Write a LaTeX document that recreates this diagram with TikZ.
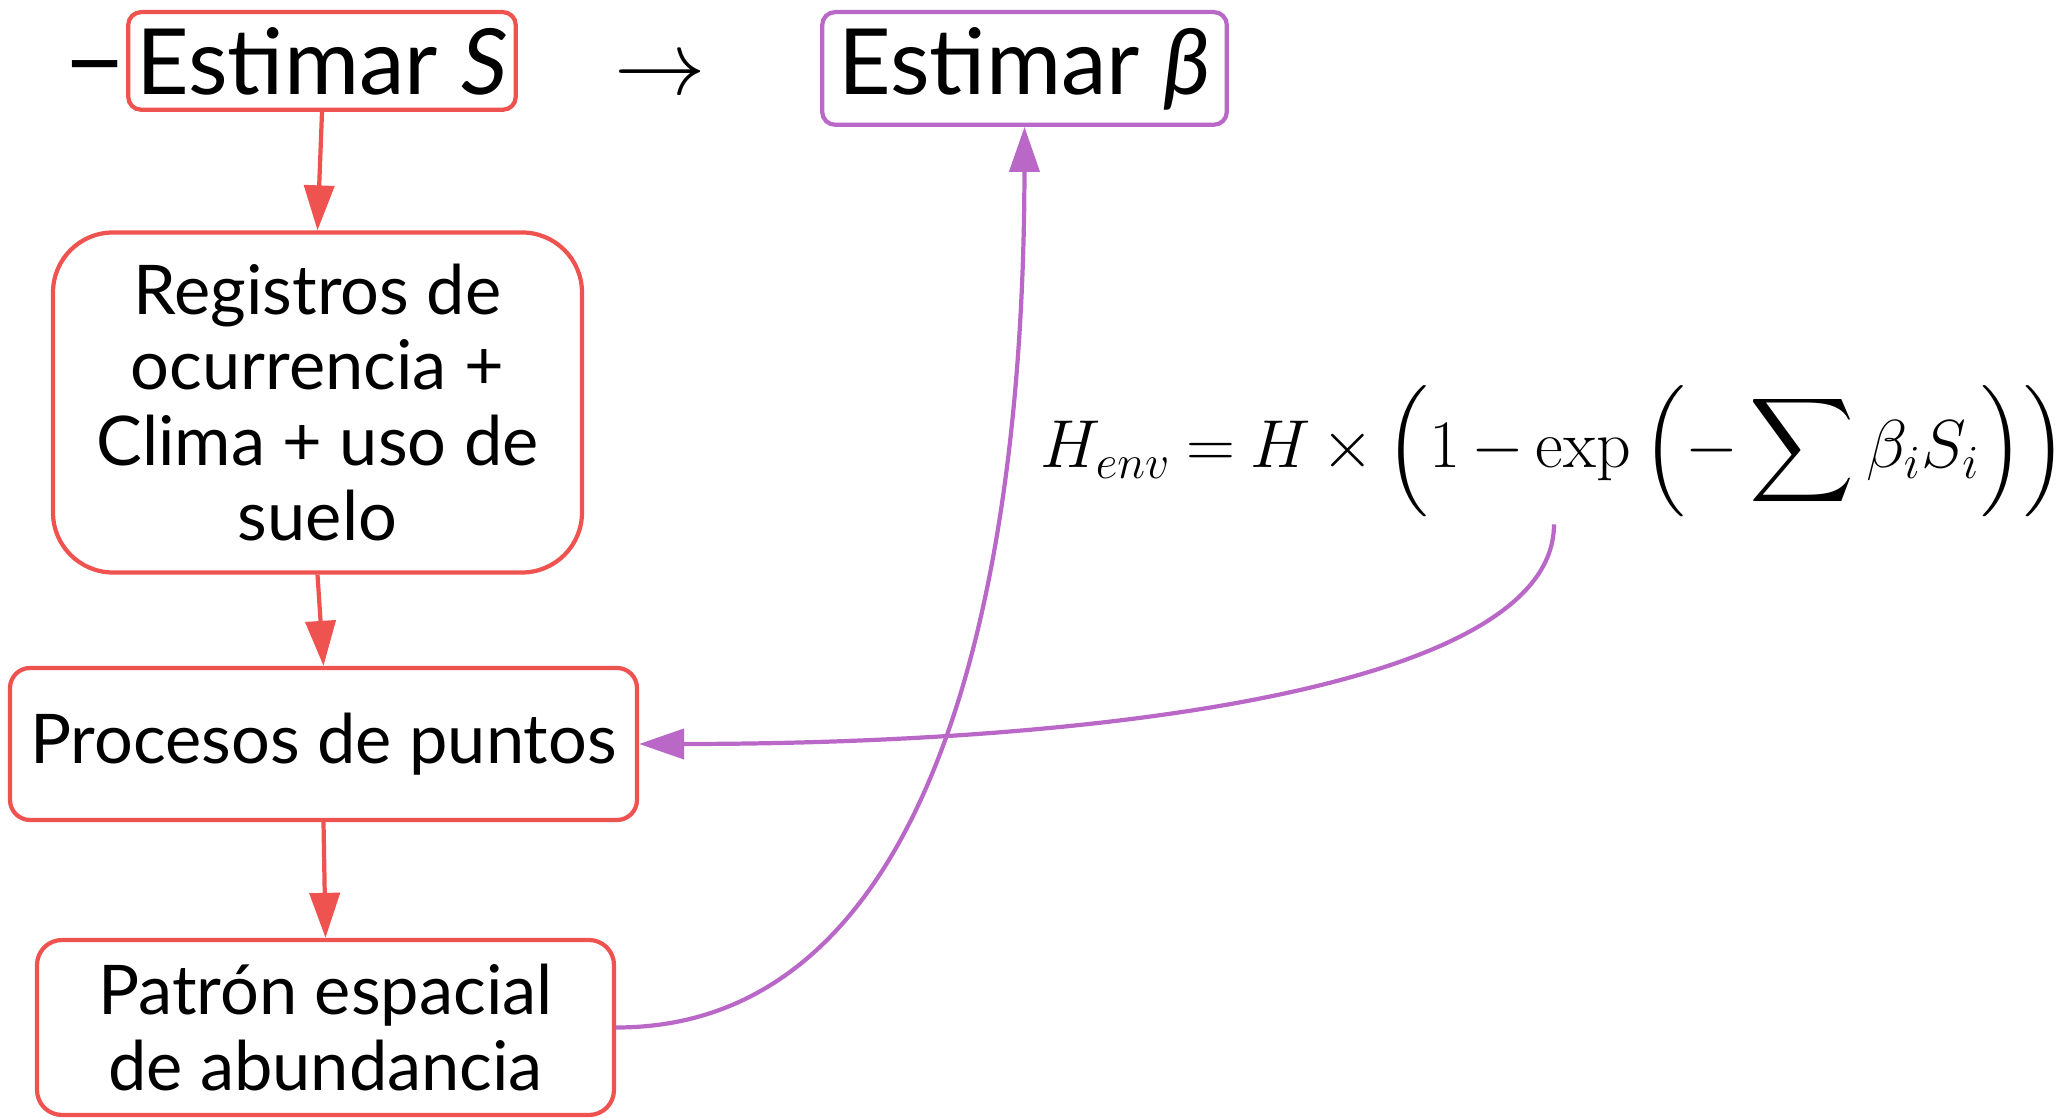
\documentclass[tikz,border=0pt]{standalone}
\usepackage{fix-cm}
\usepackage{amsmath}
\usepackage[no-math]{fontspec}
\setmainfont{Lato}
\usetikzlibrary{arrows.meta, positioning, calc}
\usepackage{xcolor}
\definecolor{FlowRed}{HTML}{EF5350}
\definecolor{FlowPurple}{HTML}{BA68C8}
\tikzset{
    % Box styles
    headbox/.style={
        rectangle,
        rounded corners=0.13cm,
        fill=white,
        line width=1.2pt,
        inner xsep=0.12cm,
        inner ysep=0.15cm,
        font=\fontsize{26}{30}\selectfont
    },
    redbox/.style={
        rectangle,
        draw=FlowRed,
        fill=white,
        line width=1.2pt,
        align=center,
        font=\fontsize{19.5}{21.5}\selectfont
    },
    % Arrow styles
    redarrow/.style={
        -{Triangle[length=0.45cm, width=0.3cm]},
        line width=1.2pt,
        draw=FlowRed
    },
    purplearrow/.style={
        -{Triangle[length=0.45cm, width=0.3cm]},
        line width=1.2pt,
        draw=FlowPurple
    }
}
\begin{document}
\begin{tikzpicture}
    \useasboundingbox (0,0) rectangle (20.61,11.18);

    % Top line
    \node[headbox, draw=FlowRed, anchor=north, inner xsep=0.08cm] (estS) at (3.22,11.08) {Estimar \textit{S}};
    \node[font=\fontsize{30}{34}\selectfont, inner sep=0pt, anchor=base east] (dash) at ([yshift=-0.05cm]estS.base west) {−};
    \node[font=\fontsize{26}{30}\selectfont, anchor=base] (arr) at ([xshift=3.38cm]estS.base) {$\rightarrow$};
    \node[headbox, draw=FlowPurple, anchor=north, inner xsep=0.16cm] (estB) at (10.245,11.08) {Estimar \textit{β}};

    % Red chain
    \node[redbox, rounded corners=0.6cm, minimum width=5.29cm, minimum height=3.4cm] (reg) at (3.175,7.155)
        {Registros de\\ocurrencia +\\Clima + uso de\\suelo};
    \node[redbox, rounded corners=0.2cm, minimum width=6.27cm, minimum height=1.52cm] (proc) at (3.235,3.74)
        {Procesos de puntos};
    \node[redbox, rounded corners=0.25cm, minimum width=5.77cm, minimum height=1.75cm] (pat) at (3.255,0.905)
        {Patrón espacial\\de abundancia};

    % Formula
    \node[font=\fontsize{19.3}{24}\selectfont, inner sep=0pt] (form) at (15.54,6.67)
        {\thickmuskip=4mu \medmuskip=3mu
         $\displaystyle H_{env} = H \times \left(1 - \exp\left(-\sum \beta_i S_i\right)\right)$};

    \draw[redarrow] (estS.south) -- (reg.north);
    \draw[redarrow] (reg.south) -- (proc.north);
    \draw[redarrow] (proc.south) -- (pat.north);

    \draw[purplearrow] (pat.east) .. controls (9.3,0.9) and (10.24,5.2) .. (estB.south);
    \draw[purplearrow] ([yshift=-0.07cm]form.south) .. controls (15.54,4.3) and (11,3.74) .. (proc.east);
\end{tikzpicture}
\end{document}
